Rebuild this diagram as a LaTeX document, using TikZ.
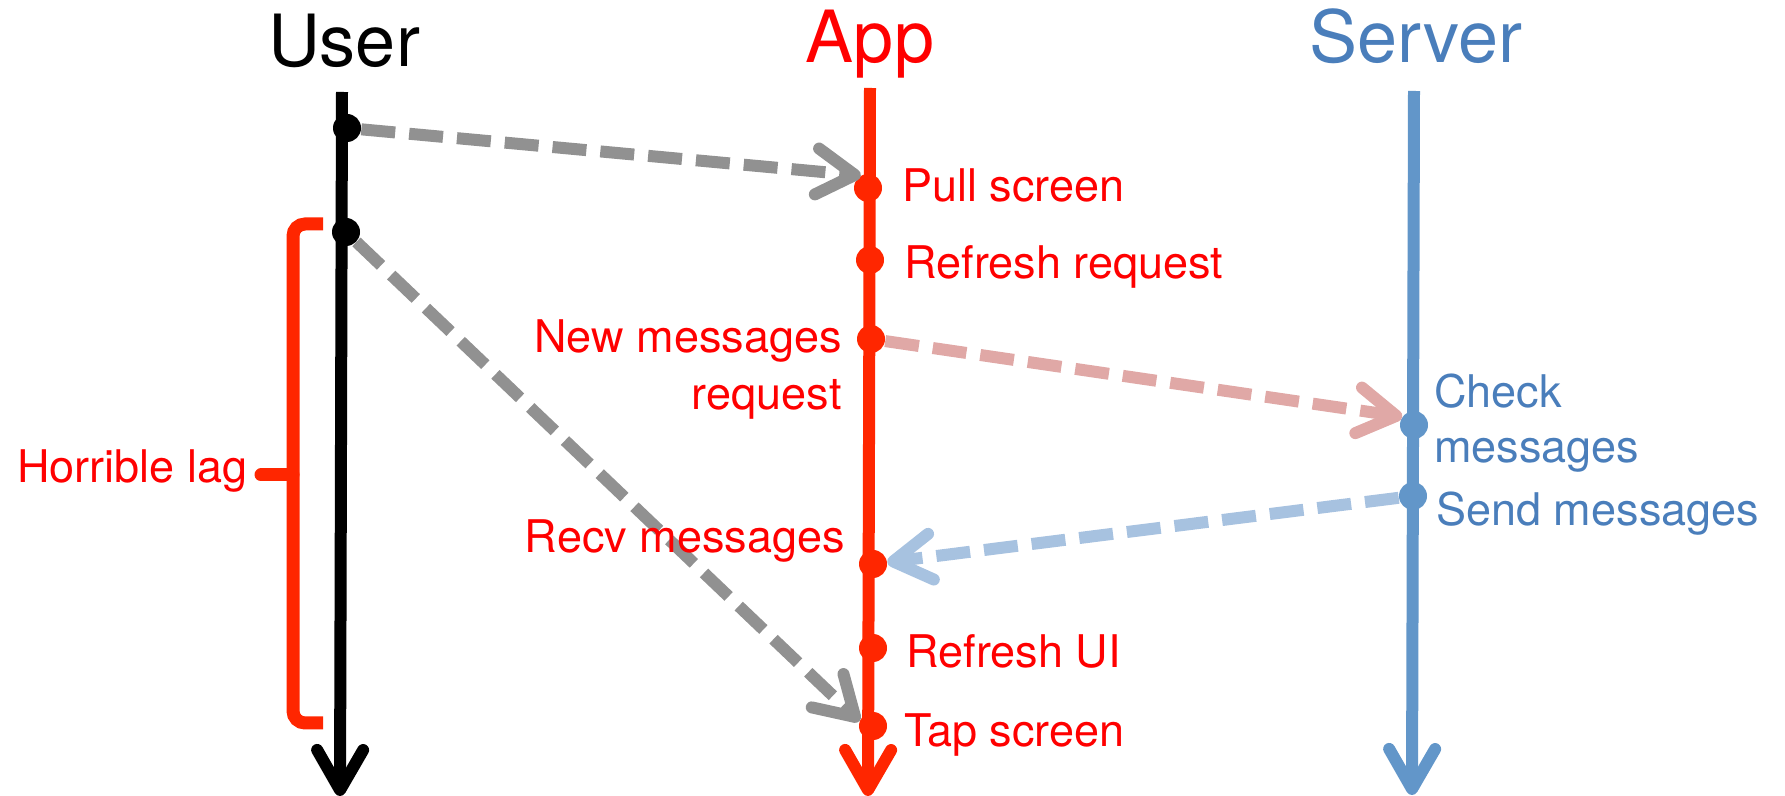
\documentclass[tikz,border=0pt]{standalone}
\usepackage{fontspec}
\setmainfont{TeX Gyre Heros}
\usetikzlibrary{arrows.meta}
\definecolor{appred}{HTML}{FF2600}
\definecolor{apptext}{HTML}{FF0000}
\definecolor{srvline}{HTML}{6296C9}
\definecolor{srvtext}{HTML}{4A7EBB}
\definecolor{msggray}{HTML}{919191}
\definecolor{msgpink}{HTML}{E0A8A6}
\definecolor{msgblue}{HTML}{A7C2E0}
\begin{document}
\begin{tikzpicture}[x=0.5pt,y=-0.5pt,
  life/.style={line width=6pt, -{Straight Barb[length=20pt,width=23pt,round]}},
  msg/.style={line width=6pt, dash pattern=on 17pt off 7pt, -{Straight Barb[length=19pt,width=23pt,round]}},
  evdot/.style={circle, fill=#1, inner sep=0pt, minimum size=14pt},
  ttl/.style={font=\fontsize{36}{40}\selectfont, anchor=base, inner sep=0pt},
  lbl/.style={font=\fontsize{22.5}{28.5}\selectfont, inner sep=0pt},
  brk/.style={appred, line width=6.5pt, rounded corners=6pt},
]
\useasboundingbox (0,0) rectangle (1785,796);

% titles
\node[ttl, text=black] (userT) at (344,67) {User};
\node[ttl, text=apptext] (appT) at (870,63) {App};
\node[ttl, text=srvtext] (srvT) at (1416,63) {Server};

% lifelines
\coordinate (uTop) at (342,92);  \coordinate (uBot) at (340,796);
\coordinate (aTop) at (870,88);  \coordinate (aBot) at (868,796);
\coordinate (sTop) at (1414,91); \coordinate (sBot) at (1412,795);
\draw[life, black] (uTop) -- (uBot);
\draw[life, appred] (aTop) -- (aBot);
\draw[life, srvline] (sTop) -- (sBot);

% event dots
\node[evdot=black] (u1) at (347,128) {};
\node[evdot=black] (u2) at (346,232) {};
\node[evdot=appred] (a1) at (868,188) {};
\node[evdot=appred] (a2) at (870,260) {};
\node[evdot=appred] (a3) at (871,339) {};
\node[evdot=appred] (a4) at (873,564) {};
\node[evdot=appred] (a5) at (873,648) {};
\node[evdot=appred] (a6) at (873,726) {};
\node[evdot=srvline] (s1) at (1414,425) {};
\node[evdot=srvline] (s2) at (1413,496) {};

% messages
\draw[msg, msggray] (u1) -- (a1.120);
\draw[msg, msggray] (u2) -- (a6.160);
\draw[msg, msgpink] (a3) -- (s1.145);
\draw[msg, msgblue] (s2) -- (a4);

% lag bracket
\coordinate (bTop) at (323,224);
\coordinate (bBot) at (323,723);
\coordinate (bMid) at (293,475);
\coordinate (bTip) at (261,475);
\draw[brk] (bTop) -- (293,224) -- (293,723) -- (bBot);
\draw[brk, line cap=round] (bMid) -- (bTip);
\node[lbl, anchor=base west, text=apptext] (lag) at (17,483) {Horrible lag};

% labels
\node[lbl, anchor=base west, text=apptext] (lpull) at (902,202) {Pull screen};
\node[lbl, anchor=base west, text=apptext] (lref) at (904,279) {Refresh request};
\node[lbl, anchor=base east, align=right, text=apptext] (lnew) at (842,410) {New messages\\request};
\node[lbl, anchor=base east, text=apptext] (lrecv) at (845,553) {Recv messages};
\node[lbl, anchor=base west, text=apptext] (lui) at (906,668) {Refresh UI};
\node[lbl, anchor=base west, text=apptext] (ltap) at (904,747) {Tap screen};
\node[lbl, anchor=base west, align=left, text=srvtext, font=\fontsize{22.5}{27.5}\selectfont] (lchk) at (1434,463) {Check\\messages};
\node[lbl, anchor=base west, text=srvtext] (lsend) at (1436,526) {Send messages};
\end{tikzpicture}
\end{document}
